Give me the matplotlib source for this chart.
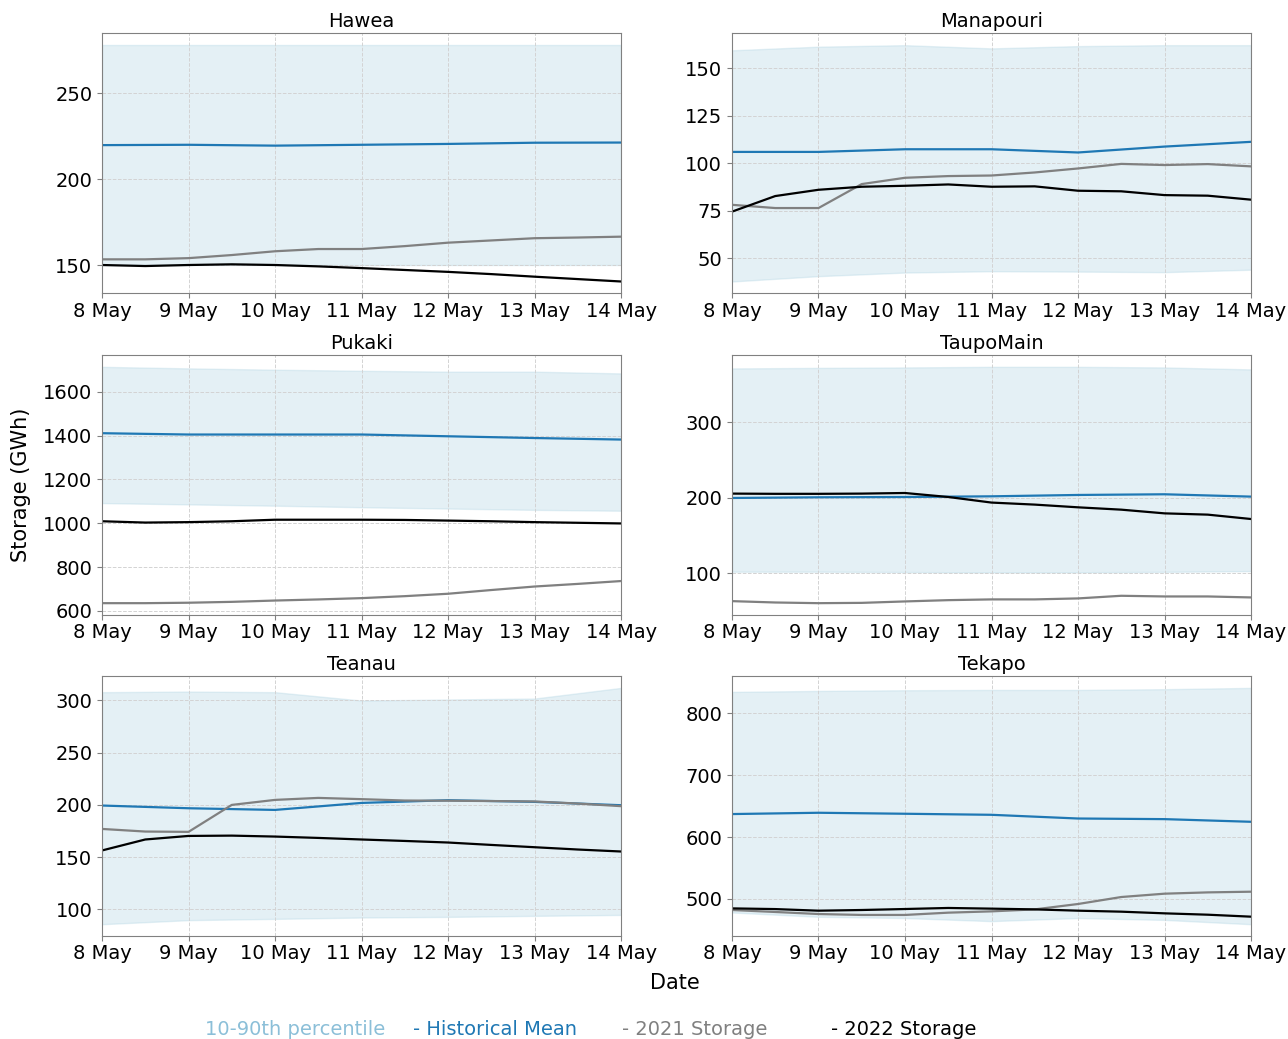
import numpy as np
import pandas as pd
import matplotlib
matplotlib.use("Agg")
import matplotlib.pyplot as plt
import matplotlib.dates as mdates

# daily historical stats, 8 May .. 14 May
days = pd.date_range("2022-05-08", "2022-05-14", freq="D")
# half-daily storage readings
half_days = pd.date_range("2022-05-08", "2022-05-14", freq="12h")

lakes = ["Hawea", "Manapouri", "Pukaki", "TaupoMain", "Teanau", "Tekapo"]

p10 = {
    "Hawea": [150, 150, 150, 150, 150, 150, 150],
    "Manapouri": [37.8, 40.6, 42.5, 43.2, 43.0, 42.7, 44.0],
    "Pukaki": [1092, 1086, 1080, 1073, 1067, 1061, 1057],
    "TaupoMain": [101.7, 101.7, 101.3, 100.8, 101.0, 101.5, 102.5],
    "Teanau": [85.8, 89.7, 90.9, 92.2, 92.8, 93.8, 94.7],
    "Tekapo": [478, 471, 469, 464, 469, 466, 459],
}
p90 = {
    "Hawea": [278, 278, 278, 278, 278, 278, 278],
    "Manapouri": [159.3, 161.2, 162.0, 160.3, 161.5, 162.0, 162.0],
    "Pukaki": [1714, 1707, 1701, 1696, 1692, 1692, 1684],
    "TaupoMain": [371.3, 372.0, 372.6, 373.4, 373.4, 372.6, 370.0],
    "Teanau": [307.9, 308.5, 307.9, 299.9, 300.9, 301.8, 312.0],
    "Tekapo": [834.8, 836.4, 837.5, 838.0, 838.0, 839.2, 841.3],
}
hist_mean = {
    "Hawea": [219.8, 220.0, 219.5, 220.0, 220.5, 221.2, 221.3],
    "Manapouri": [105.9, 105.9, 107.3, 107.3, 105.6, 108.7, 111.2],
    "Pukaki": [1411, 1405, 1405, 1405, 1397, 1389, 1382],
    "TaupoMain": [199.5, 200.4, 200.8, 201.7, 203.5, 204.4, 201.3],
    "Teanau": [199.4, 196.8, 195.2, 201.9, 204.5, 202.9, 199.7],
    "Tekapo": [637.2, 639.3, 637.7, 636.0, 630.0, 629.0, 624.7],
}
storage_2021 = {
    "Hawea": [153.3, 153.3, 154.0, 155.8, 158.0, 159.3, 159.3, 161.0, 163.0,
              164.3, 165.6, 166.0, 166.5],
    "Manapouri": [78.1, 76.4, 76.4, 89.0, 92.3, 93.2, 93.5, 95.1, 97.2, 99.6,
                  99.0, 99.5, 98.3],
    "Pukaki": [635, 635, 637, 641, 647, 652, 658, 667, 678, 695, 711, 723, 736],
    "TaupoMain": [62.7, 60.9, 60.0, 60.4, 62.3, 64.0, 65.0, 65.0, 66.3, 69.8,
                  68.9, 68.9, 67.6],
    "Teanau": [177.0, 174.5, 174.2, 200.0, 204.8, 206.7, 205.5, 204.2, 204.0,
               203.7, 203.3, 201.3, 198.8],
    "Tekapo": [482.0, 478.8, 475.5, 474.0, 474.0, 477.7, 479.8, 483.0, 491.7,
               503.0, 508.4, 510.5, 511.6],
}
storage_2022 = {
    "Hawea": [150.0, 149.4, 150.0, 150.4, 150.0, 149.2, 148.2, 147.1, 146.0,
              144.7, 143.2, 141.8, 140.4],
    "Manapouri": [74.5, 82.7, 86.0, 87.6, 88.1, 88.8, 87.6, 87.8, 85.5, 85.2,
                  83.2, 82.9, 80.8],
    "Pukaki": [1009, 1003, 1005, 1009, 1016, 1016, 1016, 1015, 1012, 1009,
               1005, 1002, 999],
    "TaupoMain": [205.3, 205.0, 205.0, 205.3, 206.1, 200.8, 193.4, 190.7, 187.1,
                  184.0, 179.1, 177.4, 171.6],
    "Teanau": [156.4, 166.9, 170.3, 170.6, 169.7, 168.4, 166.9, 165.5, 164.0,
               161.7, 159.5, 157.3, 155.4],
    "Tekapo": [484.6, 483.5, 480.9, 482.0, 483.6, 485.3, 484.2, 483.0, 480.9,
               479.3, 476.6, 474.4, 471.2],
}

band_color = "#a8d0e0"
mean_color = "#1f78b4"
c2021 = "grey"
c2022 = "black"

fig = plt.figure(figsize=(12.88, 10.39), dpi=100)

lefts = [0.0792, 0.5683]
bottoms = [0.7177, 0.4081, 0.0991]
w, h = 0.403, 0.2502

for i, lake in enumerate(lakes):
    ax = fig.add_axes([lefts[i % 2], bottoms[i // 2], w, h])
    ax.fill_between(days, p10[lake], p90[lake], color=band_color, alpha=0.3,
                    linewidth=1)
    ax.plot(days, hist_mean[lake], color=mean_color, linewidth=1.6)
    ax.plot(half_days, storage_2021[lake], color=c2021, linewidth=1.6)
    ax.plot(half_days, storage_2022[lake], color=c2022, linewidth=1.6)

    ax.set_xlim(days[0], days[-1])
    ax.xaxis.set_major_locator(mdates.DayLocator())
    ax.xaxis.set_major_formatter(mdates.DateFormatter("%-d %b"))
    ax.set_title(lake, fontsize=14, pad=4.5)
    ax.tick_params(labelsize=14, color="grey")
    ax.tick_params(axis="x", pad=2.5)
    ax.grid(True, linestyle="--", color="lightgrey", linewidth=0.7)
    for sp in ax.spines.values():
        sp.set_color("grey")

fig.text(0.016, 0.533, "Storage (GWh)", rotation=90, fontsize=15,
         ha="center", va="center")
fig.text(0.524, 0.054, "Date", fontsize=15, ha="center", va="center")

leg_y = 0.009
fig.text(0.159, leg_y, "10-90th percentile", color="#8bbfd8", fontsize=14,
         va="center")
fig.text(0.3207, leg_y, "- Historical Mean", color=mean_color, fontsize=14,
         va="center")
fig.text(0.483, leg_y, "- 2021 Storage", color=c2021, fontsize=14, va="center")
fig.text(0.645, leg_y, "- 2022 Storage", color=c2022, fontsize=14, va="center")

fig.savefig("out.png", dpi=100)
